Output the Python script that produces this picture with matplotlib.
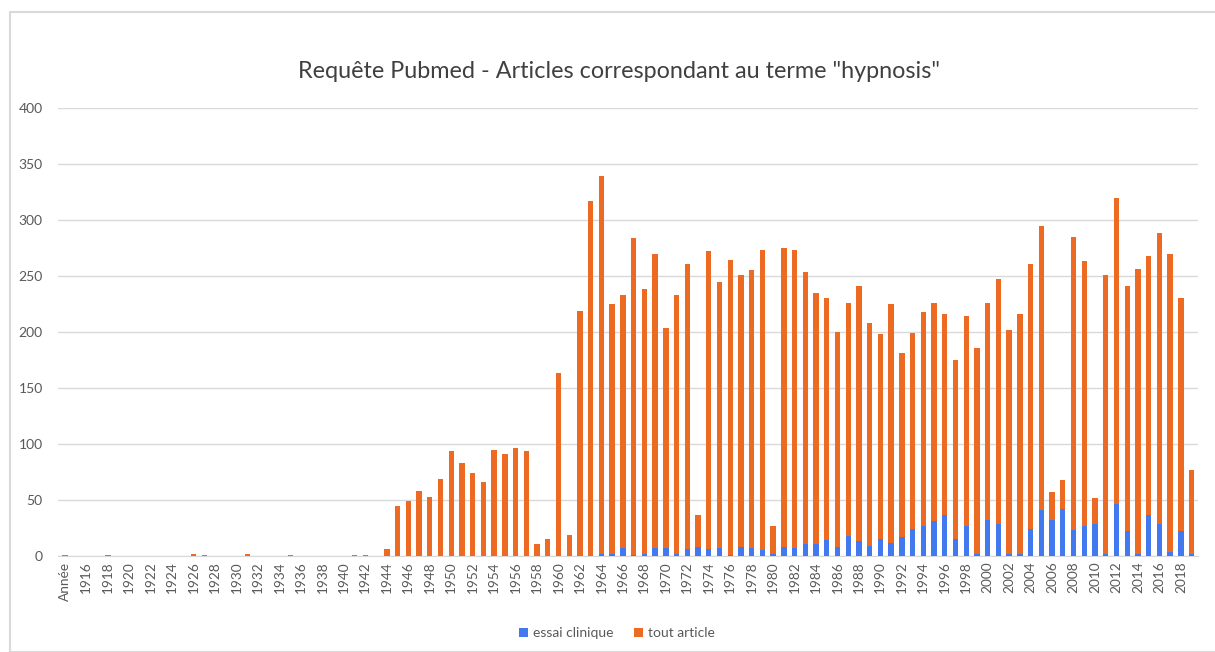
import numpy as np
import matplotlib
matplotlib.use("Agg")
import matplotlib.pyplot as plt
from matplotlib.patches import Rectangle

plt.rcParams['font.family'] = ['Lato', 'DejaVu Sans']

# --- DATA ---
categories = ["Année"] + [str(y) for y in range(1915, 2020)]

tout_article = [
    1,                                   # Année
    0, 0, 0, 1, 0, 0, 0, 0, 0, 0, 0,     # 1915-1925
    2, 1, 0, 0, 0, 2, 0, 0, 0, 1,        # 1926-1935
    0, 0, 0, 0, 0, 1, 1, 0, 6,           # 1936-1944
    45, 49, 58, 53, 69, 94, 83, 74, 66, 95,          # 1945-1954
    91, 96, 94, 11, 15, 163, 19, 219, 317, 339,      # 1955-1964
    225, 233, 284, 238, 270, 204, 233, 261, 37, 272,  # 1965-1974
    245, 264, 251, 255, 273, 27, 275, 273, 254, 235,  # 1975-1984
    230, 200, 226, 241, 208, 198, 225, 181, 199, 218, # 1985-1994
    226, 216, 175, 214, 186, 226, 247, 202, 216, 261, # 1995-2004
    295, 57, 68, 285, 263, 52, 251, 320, 241, 256,    # 2005-2014
    268, 288, 270, 230, 77,                           # 2015-2019
]

essai_clinique = [
    0,
    0, 0, 0, 0, 0, 0, 0, 0, 0, 0, 0,
    0, 0, 0, 0, 0, 0, 0, 0, 0, 0,
    0, 0, 0, 0, 0, 0, 0, 0, 0,
    0, 0, 0, 0, 0, 0, 0, 0, 0, 0,                 # 1945-1954
    0, 0, 0, 0, 0, 0, 0, 0, 0, 2,                 # 1955-1964
    2, 7, 1, 2, 7, 7, 2, 6, 8, 6,                 # 1965-1974
    7, 1, 8, 7, 5, 2, 8, 7, 11, 11,               # 1975-1984
    14, 8, 18, 13, 9, 15, 12, 17, 24, 27,         # 1985-1994
    31, 37, 15, 27, 2, 32, 29, 2, 2, 24,          # 1995-2004
    41, 32, 42, 23, 27, 29, 2, 46, 22, 2,         # 2005-2014
    37, 29, 4, 22, 2,                             # 2015-2019
]

# the orange part is the remainder on top of the blue part
reste = [t - e for t, e in zip(tout_article, essai_clinique)]

BLUE = "#4279EE"
ORANGE = "#EC6A22"
GRID = "#D9D9D9"
TEXT = "#595959"

fig = plt.figure(figsize=(12.15, 6.52), dpi=100)
ax = fig.add_axes([58 / 1215, 96 / 652, (1198 - 58) / 1215, (556 - 108) / 652])

x = np.arange(len(categories))
ax.bar(x, essai_clinique, width=0.5, color=BLUE, label="essai clinique", zorder=3)
ax.bar(x, reste, width=0.5, bottom=essai_clinique, color=ORANGE,
       label="tout article", zorder=3)

ax.set_ylim(0, 400)
ax.set_xlim(-0.65, 105.6)
ax.set_yticks(range(0, 401, 50))
ax.set_xticks(x[::2])
ax.set_xticklabels(categories[::2], rotation=90, fontsize=9.8, color=TEXT)
ax.tick_params(axis='y', labelsize=10, labelcolor=TEXT, length=0, pad=11)
ax.tick_params(axis='x', length=0, pad=4)

ax.grid(axis='y', color=GRID, lw=1, zorder=0)
for side in ['top', 'right', 'left']:
    ax.spines[side].set_visible(False)
ax.spines['bottom'].set_color(GRID)

fig.text(619 / 1215, 1 - 72 / 652, 'Requête Pubmed - Articles correspondant au terme "hypnosis"',
         ha='center', va='center', fontsize=16.8, color="#404040")

fig.legend(loc='center', bbox_to_anchor=(0.508, 1 - 633 / 652), ncol=2, frameon=False,
           fontsize=10, handlelength=0.6, handleheight=0.6, columnspacing=1.5,
           handletextpad=0.4, labelcolor=TEXT)

# light border around the whole chart area
fig.patches.append(Rectangle((10 / 1215, 0), 1.0, 1 - 12 / 652, transform=fig.transFigure,
                             fill=False, edgecolor="#D9D9D9", lw=1.5))

fig.savefig("out.png", dpi=100)
